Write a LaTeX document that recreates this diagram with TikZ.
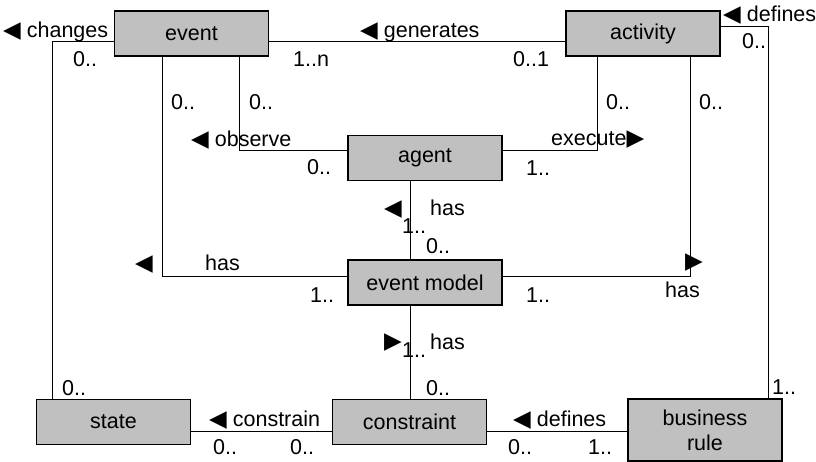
\documentclass[tikz,border=0pt]{standalone}
\usepackage{fontspec}
\setmainfont{Liberation Sans}
\newfontfamily\symfont{DejaVu Sans}
\definecolor{boxgray}{RGB}{192,192,192}
\newcommand{\trileft}{{\symfont\fontsize{23}{23}\selectfont ◀}}
\newcommand{\triright}{{\symfont\fontsize{23}{23}\selectfont ▶}}

\tikzset{
  entity/.style={draw, line width=1.3pt, fill=boxgray, minimum width=154pt, minimum height=45pt, inner sep=0pt, align=center},
  link/.style={line width=1pt},
  lbl/.style={anchor=base west, inner sep=0pt},
}

\begin{document}
\begin{tikzpicture}[x=1pt, y=-1pt, font=\fontsize{21.5}{25}\selectfont]
	\useasboundingbox (0,0) rectangle (816,462);
	
	%%% classes
	\node[entity] (event) at (191.5,33.5) {event};
	\node[entity] (activity) at (643,33.5) {activity};
	\node[entity] (agent) at (425,158) {agent};
	\node[entity] (model) at (425,282.5) {event model};
	\node[entity] (state) at (113.5,422) {state};
	\node[entity] (constraint) at (409.5,422) {constraint};
	\node[entity, minimum height=62pt] (rule) at (705,430) {business\\rule};
	
	%%% bends
	\coordinate (changesbend) at (52,42);
	\coordinate (hasleft) at (162,276);
	\coordinate (observebend) at (239,151);
	\coordinate (executebend) at (597,151);
	\coordinate (hasright) at (690,276);
	\coordinate (definesbend) at (768,27);
	\coordinate (spine) at (410,0);
	\coordinate (floor) at (0,431);
	
	%%% associations
	\draw[link] (event.west |- changesbend) -- (changesbend) -- (changesbend |- state.north);
	\draw[link] (event.east |- changesbend) -- (activity.west |- changesbend);
	\draw[link] (hasleft |- event.south) -- (hasleft) -- (hasleft -| model.west);
	\draw[link] (observebend |- event.south) -- (observebend) -- (observebend -| agent.west);
	\draw[link] (executebend |- activity.south) -- (executebend) -- (executebend -| agent.east);
	\draw[link] (hasright |- activity.south) -- (hasright) -- (hasright -| model.east);
	\draw[link] (activity.east |- definesbend) -- (definesbend) -- (definesbend |- rule.north);
	\draw[link] (spine |- agent.south) -- (spine |- model.north);
	\draw[link] (spine |- model.south) -- (spine |- constraint.north);
	\draw[link] (state.east |- floor) -- (constraint.west |- floor);
	\draw[link] (constraint.east |- floor) -- (rule.west |- floor);
	
	%%% role names
	\node[lbl] (changes) at (3,38) {\trileft\ changes};
	\node[lbl] (generates) at (360,38) {\trileft\ generates};
	\node[lbl] (definesact) at (723,22) {\trileft\ defines};
	\node[lbl] (observe) at (191,147) {\trileft\ observe};
	\node[lbl] (execute) at (551,146) {execute\triright};
	\node[lbl] (agenttri) at (384,216) {\trileft};
	\node[lbl] (agenthas) at (430,216) {has};
	\node[lbl] (lefttri) at (135,270) {\trileft};
	\node[lbl] (lefthas) at (205,270) {has};
	\node[lbl] (righttri) at (685,269) {\triright};
	\node[lbl] (righthas) at (665,297) {has};
	\node[lbl] (constrtri) at (384,348) {\triright};
	\node[lbl] (constrhas) at (430,349) {has};
	\node[lbl] (constrain) at (209,426) {\trileft\ constrain};
	\node[lbl] (definesrule) at (513,426) {\trileft\ defines};
	
	%%% multiplicities
	\node[lbl] (m1) at (73,67) {0..};
	\node[lbl] (m2) at (293,67) {1..n};
	\node[lbl] (m3) at (513,67) {0..1};
	\node[lbl] (m4) at (742,49) {0..};
	\node[lbl] (m5) at (171,110) {0..};
	\node[lbl] (m6) at (249,110) {0..};
	\node[lbl] (m7) at (307,175) {0..};
	\node[lbl] (m8) at (606,110) {0..};
	\node[lbl] (m9) at (699,110) {0..};
	\node[lbl] (m10) at (526,176) {1..};
	\node[lbl] (m11) at (402,234) {1..};
	\node[lbl] (m12) at (426,254) {0..};
	\node[lbl] (m13) at (310,302) {1..};
	\node[lbl] (m14) at (526,302) {1..};
	\node[lbl] (m15) at (402,357) {1..};
	\node[lbl] (m16) at (426,395) {0..};
	\node[lbl] (m17) at (62,395) {0..};
	\node[lbl] (m18) at (772,394) {1..};
	\node[lbl] (m19) at (213,454) {0..};
	\node[lbl] (m20) at (290,454) {0..};
	\node[lbl] (m21) at (508,454) {0..};
	\node[lbl] (m22) at (588,454) {1..};
\end{tikzpicture}
\end{document}
